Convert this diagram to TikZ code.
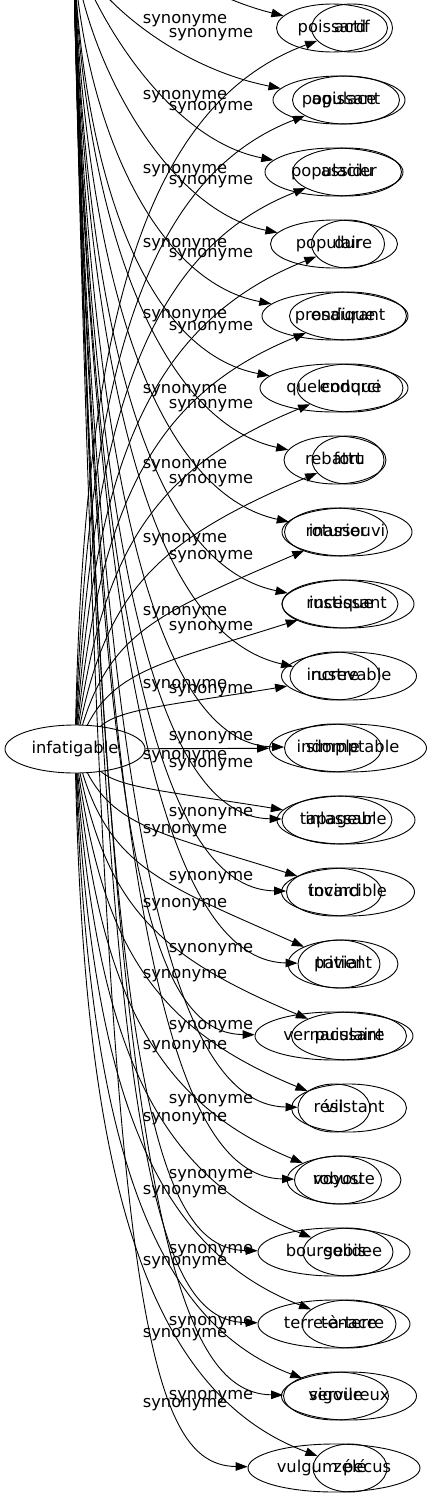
\documentclass[tikz,border=0pt]{standalone}
\usepackage{fontspec}
\setmainfont{DejaVu Sans}
\usetikzlibrary{shapes.geometric,arrows.meta}
\begin{document}
\begin{tikzpicture}[x=1pt,y=-1pt,
  every node/.style={font=\fontsize{16.3}{19}\selectfont},
  wnode/.style={draw, ellipse, line width=0.9pt, minimum height=48pt, inner sep=0pt, text height=11.6pt, text depth=3.4pt},
  lbl/.style={inner sep=0pt},
  edgeline/.style={draw, line width=0.9pt, -{Triangle[length=12pt,width=8.5pt]}}]
\useasboundingbox (0,0) rectangle (433,1499);
\clip (0,0) rectangle (433,1499);
\coordinate (bsrc) at (73,-60);
\node[wnode, minimum width=140pt] (inf) at (75,749) {infatigable};
% graph A targets and edges
\foreach \k/\xx/\ww/\name in {1/352/81/actif, 2/346/107/agissant, 3/347/109/assidu, 4/348/73/dur, 5/348/117/endurant, 6/350/106/endurci, 7/348/72/fort, 8/347/130/inassouvi, 9/348/132/incessant, 10/349/135/increvable, 11/348/157/indomptable, 12/346/138/inlassable, 13/348/133/invincible, 14/343/110/patient, 15/349/115/puissant, 16/349/115/résistant, 17/344/114/robuste, 18/348/90/solide, 19/349/94/tenace, 20/349/135/vigoureux, 21/350/74/zélé}{
  \pgfmathsetmacro{\yk}{28+72*(\k-1)}
  \node[wnode, minimum width={\ww pt}] (a\k) at (\xx,\yk) {\name};
  \ifnum\k=11
    \draw[edgeline] (inf) -- (a\k);
  \else
    \ifnum\k<11
      \pgfmathsetmacro{\dd}{749-\yk}
      \pgfmathsetmacro{\xa}{80+4*\k}
      \pgfmathsetmacro{\ya}{\yk+0.45*\dd}
      \pgfmathsetmacro{\xb}{\xa+50}
      \pgfmathsetmacro{\yb}{\yk+min(80,0.4*\dd)}
    \else
      \pgfmathsetmacro{\dd}{\yk-749}
      \pgfmathsetmacro{\xa}{80+4*(22-\k)}
      \pgfmathsetmacro{\ya}{\yk-0.45*\dd}
      \pgfmathsetmacro{\xb}{\xa+50}
      \pgfmathsetmacro{\yb}{\yk-min(80,0.4*\dd)}
    \fi
    \draw[edgeline] (inf) .. controls (\xa,\ya) and (\xb,\yb) .. (a\k);
  \fi
}
% graph B targets and edges
\foreach \k/\xx/\ww/\name in {1/332/111/poissard, 2/339/132/populace, 3/334/138/populacier, 4/334/127/populaire, 5/335/146/prosaïque, 6/334/148/quelconque, 7/335/102/rebattu, 8/336/103/roturier, 9/340/116/rustique, 10/335/90/rustre, 11/333/97/simple, 12/337/110/tapageur, 13/334/95/tocard, 14/339/82/trivial, 15/334/158/vernaculaire, 16/334/72/vil, 17/338/87/voyou, 18/334/152/bourgeois-e, 19/334/152/terre-à-terre, 20/336/105/servile, 21/334/172/vulgum pecus}{
  \pgfmathsetmacro{\yk}{28+72*(\k-1)}
  \node[wnode, minimum width={\ww pt}] (b\k) at (\xx,\yk) {\name};
  \pgfmathsetmacro{\cx}{\k==1 ? 150 : 73+1.5*\k}
  \pgfmathsetmacro{\cy}{\k==1 ? -50 : max(\yk-200,-20)}
  \pgfmathsetmacro{\ex}{\k==1 ? 200 : \xx-\ww/2-110}
  \pgfmathsetmacro{\ey}{\k==1 ? -5 : (\k<11 ? \yk-35 : \yk-3)}
  \draw[edgeline] (bsrc) .. controls (\cx,\cy) and (\ex,\ey) .. (b\k);
}
% edge labels
\foreach \yy [count=\i] in {21,97,171,245,316,391,466,540,613,686,757,831,905,976,1047,1119,1192,1263,1335,1405}
  \node[lbl] (lb\i) at (185,\yy) {synonyme};
\foreach \yy [count=\i] in {35,108,182,255,328,406,481,557,628,691,738,765,814,878,950,1027,1101,1176,1251,1323,1397}
  \node[lbl] (la\i) at (211,\yy) {synonyme};
\end{tikzpicture}
\end{document}
